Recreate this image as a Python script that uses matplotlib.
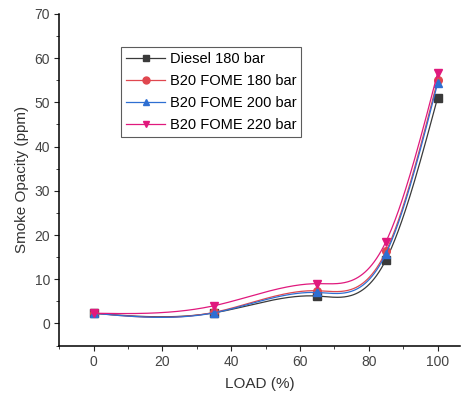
import numpy as np
import matplotlib.pyplot as plt
from matplotlib.ticker import MultipleLocator

plt.rcParams['font.family'] = ['Liberation Sans', 'DejaVu Sans']

load = [0, 35, 65, 85, 100]
diesel_180 = [2.3, 2.4, 6.2, 14.4, 51.0]
b20_180 = [2.3, 2.5, 7.4, 16.3, 55.0]
b20_200 = [2.3, 2.4, 7.0, 15.8, 54.3]
b20_220 = [2.3, 4.0, 9.0, 18.5, 56.6]

series = [
    ("Diesel 180 bar", diesel_180, '#3a3a3a', 's'),
    ("B20 FOME 180 bar", b20_180, '#e0474f', 'o'),
    ("B20 FOME 200 bar", b20_200, '#2e6fd2', '^'),
    ("B20 FOME 220 bar", b20_220, '#e0197d', 'v'),
]


def natural_spline(x, y, xs):
    # plain natural cubic spline, no scipy needed
    x = np.asarray(x, float)
    y = np.asarray(y, float)
    n = len(x)
    h = np.diff(x)
    A = np.zeros((n, n))
    r = np.zeros(n)
    A[0, 0] = A[-1, -1] = 1
    for i in range(1, n - 1):
        A[i, i - 1] = h[i - 1]
        A[i, i] = 2 * (h[i - 1] + h[i])
        A[i, i + 1] = h[i]
        r[i] = 3 * ((y[i + 1] - y[i]) / h[i] - (y[i] - y[i - 1]) / h[i - 1])
    c = np.linalg.solve(A, r)
    b = (y[1:] - y[:-1]) / h - h * (2 * c[:-1] + c[1:]) / 3
    d = (c[1:] - c[:-1]) / (3 * h)
    idx = np.clip(np.searchsorted(x, xs) - 1, 0, n - 2)
    t = xs - x[idx]
    return y[idx] + b[idx] * t + c[idx] * t ** 2 + d[idx] * t ** 3


fig = plt.figure(figsize=(4.66, 3.99), dpi=100)
ax = fig.add_axes([0.127, 0.134, 0.86, 0.831])

xs = np.linspace(load[0], load[-1], 300)
for label, vals, color, marker in series:
    ax.plot(xs, natural_spline(load, vals, xs), color=color, lw=0.9)
    ax.plot(load, vals, linestyle='none', marker=marker, color=color, markersize=5.5)
    ax.plot([], [], color=color, lw=0.9, marker=marker, markersize=5, label=label)

ax.set_xlim(-10, 106.5)
ax.set_ylim(-5, 70)
ax.xaxis.set_major_locator(MultipleLocator(20))
ax.xaxis.set_minor_locator(MultipleLocator(10))
ax.yaxis.set_major_locator(MultipleLocator(10))
ax.yaxis.set_minor_locator(MultipleLocator(5))
ax.spines['top'].set_visible(False)
ax.spines['right'].set_visible(False)
ax.spines['left'].set_linewidth(1.1)
ax.spines['bottom'].set_linewidth(1.1)
ax.tick_params(which='both', direction='out', labelsize=10, colors='#222222', labelcolor='#444444')
ax.tick_params(which='major', length=3.5, pad=3)
ax.tick_params(which='minor', length=2)
ax.set_xlabel("LOAD (%)", fontsize=11, color='#333333', labelpad=6)
ax.set_ylabel("Smoke Opacity (ppm)", fontsize=11, color='#333333', labelpad=4)

leg = ax.legend(loc='upper left', bbox_to_anchor=(0.154, 0.9), fontsize=10.5, frameon=True,
                fancybox=False, edgecolor='#333333', borderpad=0.35, labelspacing=0.55,
                handlelength=2.7, handletextpad=0.3, borderaxespad=0)
leg.get_frame().set_linewidth(0.8)

fig.savefig("out.png", dpi=100)
